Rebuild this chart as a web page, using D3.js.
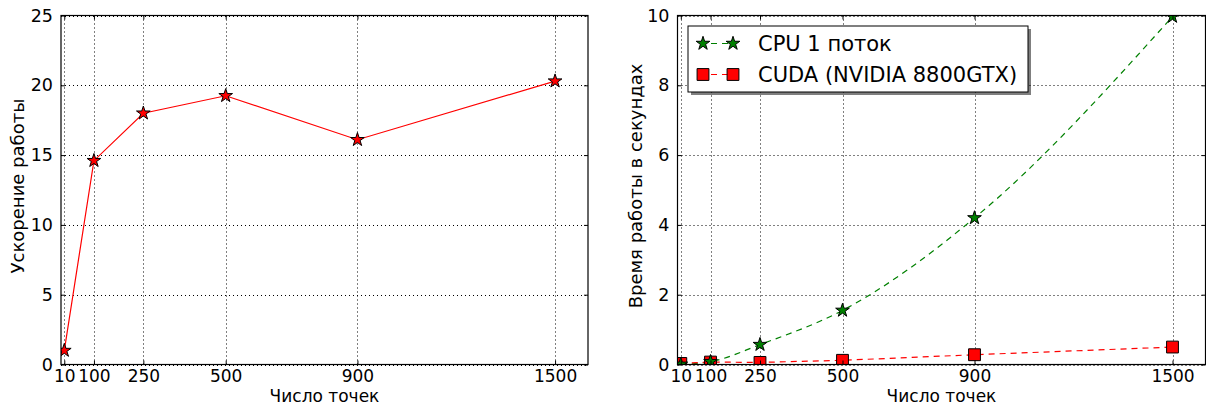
<!DOCTYPE html>
<html>
<head>
<meta charset="utf-8">
<script src="https://cdn.jsdelivr.net/npm/d3@7"></script>
<style>
  body { margin: 0; background: #fff; }
  text { font-family: "DejaVu Sans", sans-serif; fill: #000; }
</style>
</head>
<body>
<div id="chart"></div>
<script>
// data
const points = [10, 100, 250, 500, 900, 1500];
const speedup = [1.0, 14.6, 18.0, 19.25, 16.1, 20.3];
const cpuTime = [0.005, 0.08, 0.57, 1.55, 4.2, 9.97];
const cudaTime = [0.03, 0.07, 0.06, 0.12, 0.28, 0.5];
const leftYTicks = [0, 5, 10, 15, 20, 25];
const rightYTicks = [0, 2, 4, 6, 8, 10];
const xLabel = "Число точек";
const leftYLabel = "Ускорение работы";
const rightYLabel = "Время работы в секундах";
const legendNames = ["CPU 1 поток", "CUDA (NVIDIA 8800GTX)"];

const width = 1206, height = 406;
const svg = d3.select("#chart").append("svg")
  .attr("width", width).attr("height", height);

const starPath = d3.symbol().type(d3.symbolStar).size(58);
const squarePath = d3.symbol().type(d3.symbolSquare).size(140);

function panel(id, x0, x1, yMax, yTicks, yLabel, labelX) {
  const top = 15.5, bottom = 364.5;
  const x = d3.scaleLinear().domain([0, 1600]).range([x0, x1]);
  const y = d3.scaleLinear().domain([0, yMax]).range([bottom, top]);
  const g = svg.append("g");

  g.append("clipPath").attr("id", id)
    .append("rect").attr("x", x0).attr("y", top)
    .attr("width", x1 - x0).attr("height", bottom - top);

  // dotted grid
  g.selectAll(".gx").data(points).enter().append("line")
    .attr("x1", d => Math.round(x(d)) + 0.5).attr("x2", d => Math.round(x(d)) + 0.5)
    .attr("y1", top).attr("y2", bottom)
    .attr("stroke", "#000").attr("stroke-width", 1)
    .attr("stroke-dasharray", "1,3");
  g.selectAll(".gy").data(yTicks).enter().append("line")
    .attr("x1", x0).attr("x2", x1)
    .attr("y1", d => Math.round(y(d)) + 0.5).attr("y2", d => Math.round(y(d)) + 0.5)
    .attr("stroke", "#000").attr("stroke-width", 1)
    .attr("stroke-dasharray", "1,3");

  const plot = g.append("g").attr("clip-path", `url(#${id})`);

  // axes: inward ticks on all four sides, labels bottom/left
  const fmt = d3.format("d");
  const bottomAx = g.append("g").attr("transform", `translate(0,${bottom})`)
    .call(d3.axisBottom(x).tickValues(points).tickSize(-4).tickPadding(5).tickFormat(fmt));
  const topAx = g.append("g").attr("transform", `translate(0,${top})`)
    .call(d3.axisTop(x).tickValues(points).tickSize(-4).tickFormat(""));
  const leftAx = g.append("g").attr("transform", `translate(${x0},0)`)
    .call(d3.axisLeft(y).tickValues(yTicks).tickSize(-4).tickPadding(8).tickFormat(fmt));
  const rightAx = g.append("g").attr("transform", `translate(${x1},0)`)
    .call(d3.axisRight(y).tickValues(yTicks).tickSize(-4).tickFormat(""));
  [bottomAx, topAx, leftAx, rightAx].forEach(a => {
    a.select(".domain").remove();
    a.selectAll("line").attr("stroke", "#000");
    a.selectAll("text").attr("font-size", 17.5)
      .attr("font-family", "DejaVu Sans, sans-serif");
  });
  bottomAx.selectAll("text").attr("font-size", 17);

  g.append("text").attr("x", (x0 + x1) / 2).attr("y", 401.5)
    .attr("text-anchor", "middle").attr("font-size", 17).text(xLabel);
  g.append("text")
    .attr("transform", `translate(${labelX},${(top + bottom) / 2 - 4}) rotate(-90)`)
    .attr("text-anchor", "middle").attr("font-size", 18).text(yLabel);

  return { x, y, g, plot, frame: () => g.append("rect")
    .attr("x", x0).attr("y", top).attr("width", x1 - x0).attr("height", bottom - top)
    .attr("fill", "none").attr("stroke", "#000").attr("stroke-width", 1.2) };
}

// left: speedup
const L = panel("clipL", 61, 588, 25, leftYTicks, leftYLabel, 24);
L.plot.append("path")
  .datum(points.map((p, i) => [p, speedup[i]]))
  .attr("d", d3.line().x(d => L.x(d[0])).y(d => L.y(d[1])))
  .attr("fill", "none").attr("stroke", "#ff0000").attr("stroke-width", 1.2);
L.plot.selectAll(".star").data(points).enter().append("path")
  .attr("transform", (d, i) => `translate(${L.x(d)},${L.y(speedup[i])})`)
  .attr("d", starPath).attr("fill", "#ff0000")
  .attr("stroke", "#000").attr("stroke-width", 1);
L.frame();

// right: run time
const R = panel("clipR", 677.5, 1205.5, 10, rightYTicks, rightYLabel, 642);
const series = [
  { vals: cpuTime, color: "#008000", marker: starPath, curve: d3.curveMonotoneX },
  { vals: cudaTime, color: "#ff0000", marker: squarePath, curve: d3.curveLinear }
];
series.forEach(s => {
  R.plot.append("path")
    .datum(points.map((p, i) => [p, s.vals[i]]))
    .attr("d", d3.line().curve(s.curve).x(d => R.x(d[0])).y(d => R.y(d[1])))
    .attr("fill", "none").attr("stroke", s.color)
    .attr("stroke-width", 1.2).attr("stroke-dasharray", "6,5");
});
series.slice().reverse().forEach(s => {
  R.plot.selectAll(null).data(points).enter().append("path")
    .attr("transform", (d, i) => `translate(${R.x(d)},${R.y(s.vals[i])})`)
    .attr("d", s.marker).attr("fill", s.color)
    .attr("stroke", "#000").attr("stroke-width", 1);
});
R.frame();

// legend with shadow
const lg = svg.append("g");
lg.append("rect").attr("x", 691).attr("y", 29).attr("width", 340).attr("height", 66)
  .attr("fill", "#000").attr("fill-opacity", 0.5);
lg.append("rect").attr("x", 688).attr("y", 26).attr("width", 340).attr("height", 66)
  .attr("fill", "#fff").attr("stroke", "#000").attr("stroke-width", 1);
series.forEach((s, i) => {
  const cy = 43.5 + i * 31;
  lg.append("line").attr("x1", 703).attr("x2", 733).attr("y1", cy).attr("y2", cy)
    .attr("stroke", s.color).attr("stroke-width", 1.2).attr("stroke-dasharray", "6,5")
    .attr("stroke-dashoffset", -8);
  [703, 733].forEach(mx => lg.append("path")
    .attr("transform", `translate(${mx},${cy})`).attr("d", s.marker)
    .attr("fill", s.color).attr("stroke", "#000").attr("stroke-width", 1));
  lg.append("text").attr("x", 758).attr("y", cy + 7.5).attr("font-size", 21)
    .text(legendNames[i]);
});
</script>
</body>
</html>
